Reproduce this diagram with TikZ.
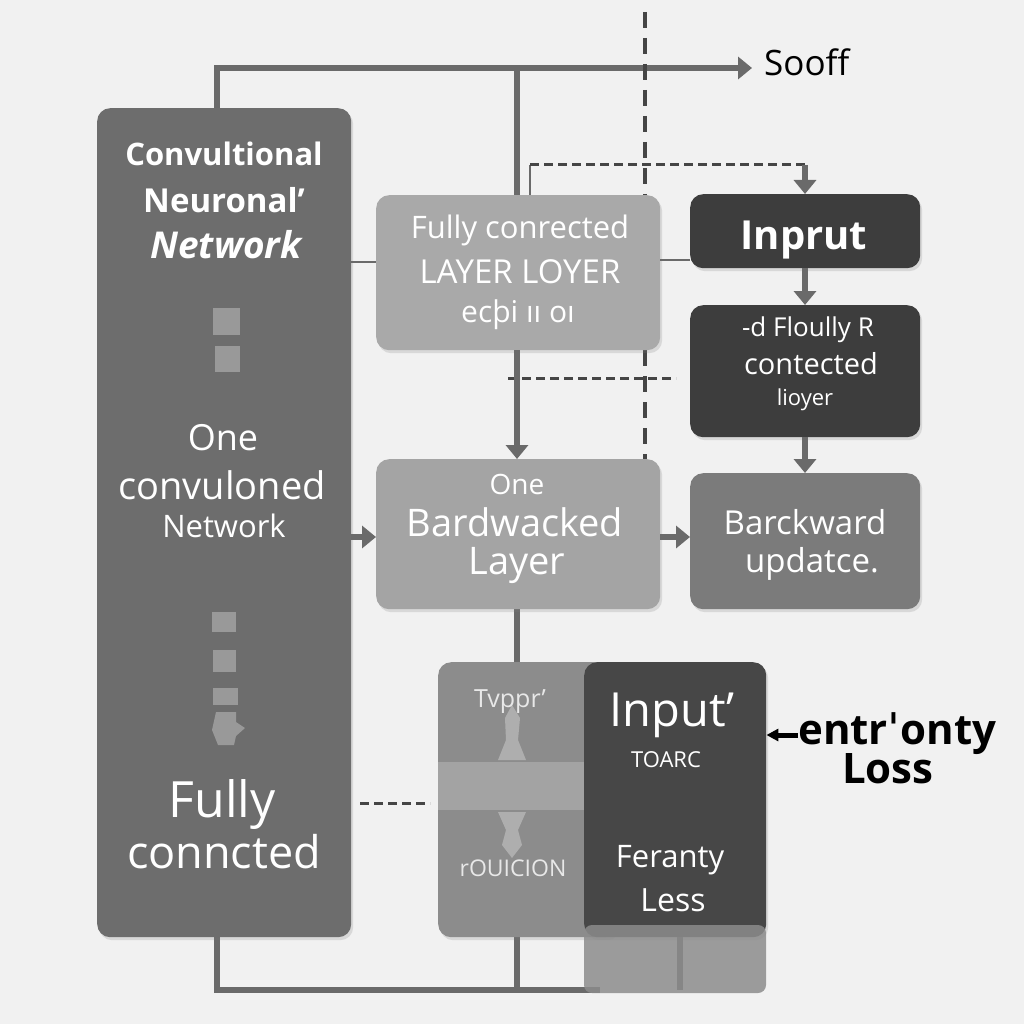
\documentclass[tikz,border=0pt]{standalone}
\usepackage{fontspec}
\setmainfont{Open Sans}
\newfontfamily\dejavu{DejaVu Sans}
\usetikzlibrary{arrows.meta,shadows,backgrounds}
\pgfdeclarelayer{canvas}
\pgfsetlayers{canvas,background,main}
\definecolor{bgc}{HTML}{F1F1F1}
\definecolor{cleft}{HTML}{6D6D6D}
\definecolor{clight}{HTML}{A9A9A9}
\definecolor{cdark}{HTML}{3D3D3D}
\definecolor{cmid}{HTML}{7B7B7B}
\definecolor{clow}{HTML}{8C8C8C}
\definecolor{cline}{HTML}{6A6A6A}
\definecolor{cdash}{HTML}{454545}
\newcommand{\fsz}[2]{\fontsize{#1}{#2}\selectfont}
\tikzset{
  box/.style={rounded corners=13pt, inner sep=0pt, anchor=north west, draw=none,
    drop shadow={opacity=0.22, shadow xshift=2pt, shadow yshift=-3pt}},
  wt/.style={text=white, inner sep=0pt, align=center},
  conn/.style={draw=cline, line width=6pt},
  thin/.style={draw=cline, line width=2pt},
  tip/.style={-{Triangle[length=14pt,width=22pt]}},
  dashv/.style={draw=cdash, line width=3.5pt, dash pattern=on 16pt off 10pt},
  dotl/.style={draw=cdash, line width=3pt, dash pattern=on 9pt off 5pt},
}
\begin{document}
\begin{tikzpicture}[x=1pt,y=-1pt]
\useasboundingbox (0,0) rectangle (1024,1024);
\begin{pgfonlayer}{canvas}
\fill[bgc] (0,0) rectangle (1024,1024);
\end{pgfonlayer}

% ---------- boxes ----------
\node[box, fill=cleft, minimum width=254pt, minimum height=829pt] (cnn) at (97,108) {};
\node[box, fill=clight, minimum width=284pt, minimum height=155pt] (fc) at (376,195) {};
\node[box, fill=cdark, minimum width=230pt, minimum height=74pt] (inp) at (690,194) {};
\node[box, fill=cdark, minimum width=230pt, minimum height=132pt] (fcl) at (690,305) {};
\node[box, fill=clight!97!black, minimum width=284pt, minimum height=150pt] (bwl) at (376,459) {};
\node[box, fill=cmid, minimum width=230pt, minimum height=136pt] (bwu) at (690,473) {};
\node[box, fill=clow, minimum width=180pt, minimum height=275pt] (low) at (438,662) {};
\fill[clow!80!white] (438,762) rectangle (584,810);
\fill[clow!70!white] (505,718) -- (512,705) -- (520,718) -- (518,740) -- (526,760) -- (498,760) -- (506,740) -- cycle;
\fill[clow!70!white] (498,812) -- (526,812) -- (518,830) -- (522,845) -- (512,858) -- (502,845) -- (506,830) -- cycle;
\node[box, fill=cdark!95!white, minimum width=182pt, minimum height=275pt] (inl) at (584,662) {};
\path[fill=clow, opacity=0.85, rounded corners=8pt] (584,925) -- (584,993) -- (766,993) -- (766,925) -- cycle;

% ---------- connectors ----------
\coordinate (tl) at (217,68);
\coordinate (tm) at (517,68);
\coordinate (tr) at (752,68);
\coordinate (bl) at (217,990);
\coordinate (br) at (600,990);
\coordinate (bm) at (517,990);
\coordinate (dtop) at (645,12);
\coordinate (dbot) at (645,462);
\coordinate (d1a) at (530,165);
\coordinate (d1b) at (805,165);
\coordinate (d2a) at (508,378);
\coordinate (d2b) at (676,378);
\coordinate (d3a) at (360,803);
\coordinate (d3b) at (430,803);
\begin{pgfonlayer}{background}
\draw[conn, tip] (cnn.north -| tl) -- (tl) -- (tr);
\draw[conn] (tm) -- (fc.north -| tm);
\draw[conn] (bwl.south -| bm) -- (bm);
\draw[conn] (cnn.south -| bl) -- (bl) -- (br);
\draw[line width=6pt, draw=cdark!80!white] (680,937) -- (680,990);
\draw[dashv] (dtop) -- (dbot);
\draw[thin] (d1a) -- (530,195);
\end{pgfonlayer}
\draw[dotl] (d1a) -- (d1b);
\draw[conn, tip] (d1b) -- (inp.north -| d1b);
\draw[dotl] (d2a) -- (d2b);
\draw[conn, tip] (fc.south -| tm) -- (bwl.north -| tm);
\draw[conn, tip] (inp.south -| d1b) -- (fcl.north -| d1b);
\draw[conn, tip] (fcl.south -| d1b) -- (bwu.north -| d1b);
\draw[thin] (cnn.east |- 0,262) -- (fc.west |- 0,262);
\draw[thin] (fc.east |- 0,260) -- (inp.west |- 0,260);
\draw[conn, tip] (cnn.east |- 0,537) -- (bwl.west |- 0,537);
\draw[conn, tip] (bwl.east |- 0,537) -- (bwu.west |- 0,537);
\draw[dotl] (d3a) -- (d3b);

% ---------- left box texts ----------
\node[wt, font=\fsz{31}{36}\bfseries] (c1) at (224,154) {Convultional};
\node[wt, font=\fsz{33}{38}\bfseries] (c2) at (224,200) {Neuronal'};
\node[wt, font=\fsz{37}{42}\bfseries\itshape] (c3) at (226,245) {Network};
\node[wt, font=\fsz{36}{40}] (c4) at (223,438) {One};
\node[wt, font=\fsz{38}{42}] (c5) at (222,485) {convuloned};
\node[wt, font=\fsz{31}{36}] (c6) at (224,526) {Network};
\node[wt, font=\fsz{50}{56}] (c7) at (222,805) {Fully};
\node[wt, font=\fsz{45}{50}] (c8) at (224,852) {conncted};
\fill[cleft!70!white] (213,308) rectangle (240,335);
\fill[cleft!70!white] (215,346) rectangle (240,372);
\fill[cleft!70!white] (212,612) rectangle (236,632);
\fill[cleft!70!white] (213,650) rectangle (236,672);
\fill[cleft!70!white] (213,688) rectangle (238,705);
\fill[cleft!70!white] (216,712) -- (236,712) -- (236,722) -- (245,728) -- (236,736) -- (234,745) -- (218,745) -- (212,730) -- cycle;

% ---------- other texts ----------
\node[wt, font=\fsz{31}{34}] (f1) at (520,230) {Fully conrected};
\node[wt, font=\fsz{33}{36}] (f2) at (520,272) {LAYER LOYER};
\node[wt, font=\fsz{30}{34}] (f3) at (518,315) {ecþi ıı oı};
\node[wt, font=\fsz{40}{44}\bfseries] (i1) at (804,240) {Inprut};
\node[wt, font=\fsz{26}{30}] (g1) at (808,330) {-d Floully R};
\node[wt, font=\fsz{29}{32}] (g2) at (811,364) {contected};
\node[wt, font=\fsz{22}{26}] (g3) at (805,400) {lioyer};
\node[wt, font=\fsz{28}{32}] (b1) at (517,484) {One};
\node[wt, font=\fsz{38}{42}] (b2) at (515,522) {Bardwacked};
\node[wt, font=\fsz{38}{42}] (b3) at (517,565) {Layer};
\node[wt, font=\fsz{33}{36}] (u1) at (805,522) {Barckward};
\node[wt, font=\fsz{33}{36}] (u2) at (812,564) {updatce.};
\node[text=white!80!clow, font=\fsz{25}{30}, inner sep=0pt] (l1) at (510,702) {Tvppr'};
\node[text=white!80!clow, font=\fsz{23}{28}, inner sep=0pt] (l2) at (513,868) {rOUICION};
\node[wt, font=\fsz{47}{50}] (n1) at (672,715) {Input'};
\node[wt, font=\fsz{22}{26}] (n2) at (666,760) {TOARC};
\node[wt, font=\fsz{31}{34}] (n3) at (670,860) {Feranty};
\node[wt, font=\fsz{32}{34}] (n4) at (673,900) {Less};
\node[text=black, font=\fsz{35}{38}, inner sep=0pt, anchor=west] (soff) at (764,62) {Sooff};
\node[text=black, font=\fsz{42}{36}\bfseries, inner sep=0pt, align=left, anchor=west] (ent) at (798,748) {entr{\dejavu ˈ}onty\\[-2pt]\hspace*{44pt}Loss};
\draw[black, line width=5pt, -{Triangle[length=12pt,width=12pt]}] (ent.west |- 0,735) -- (inl.east |- 0,735);
\end{tikzpicture}
\end{document}
